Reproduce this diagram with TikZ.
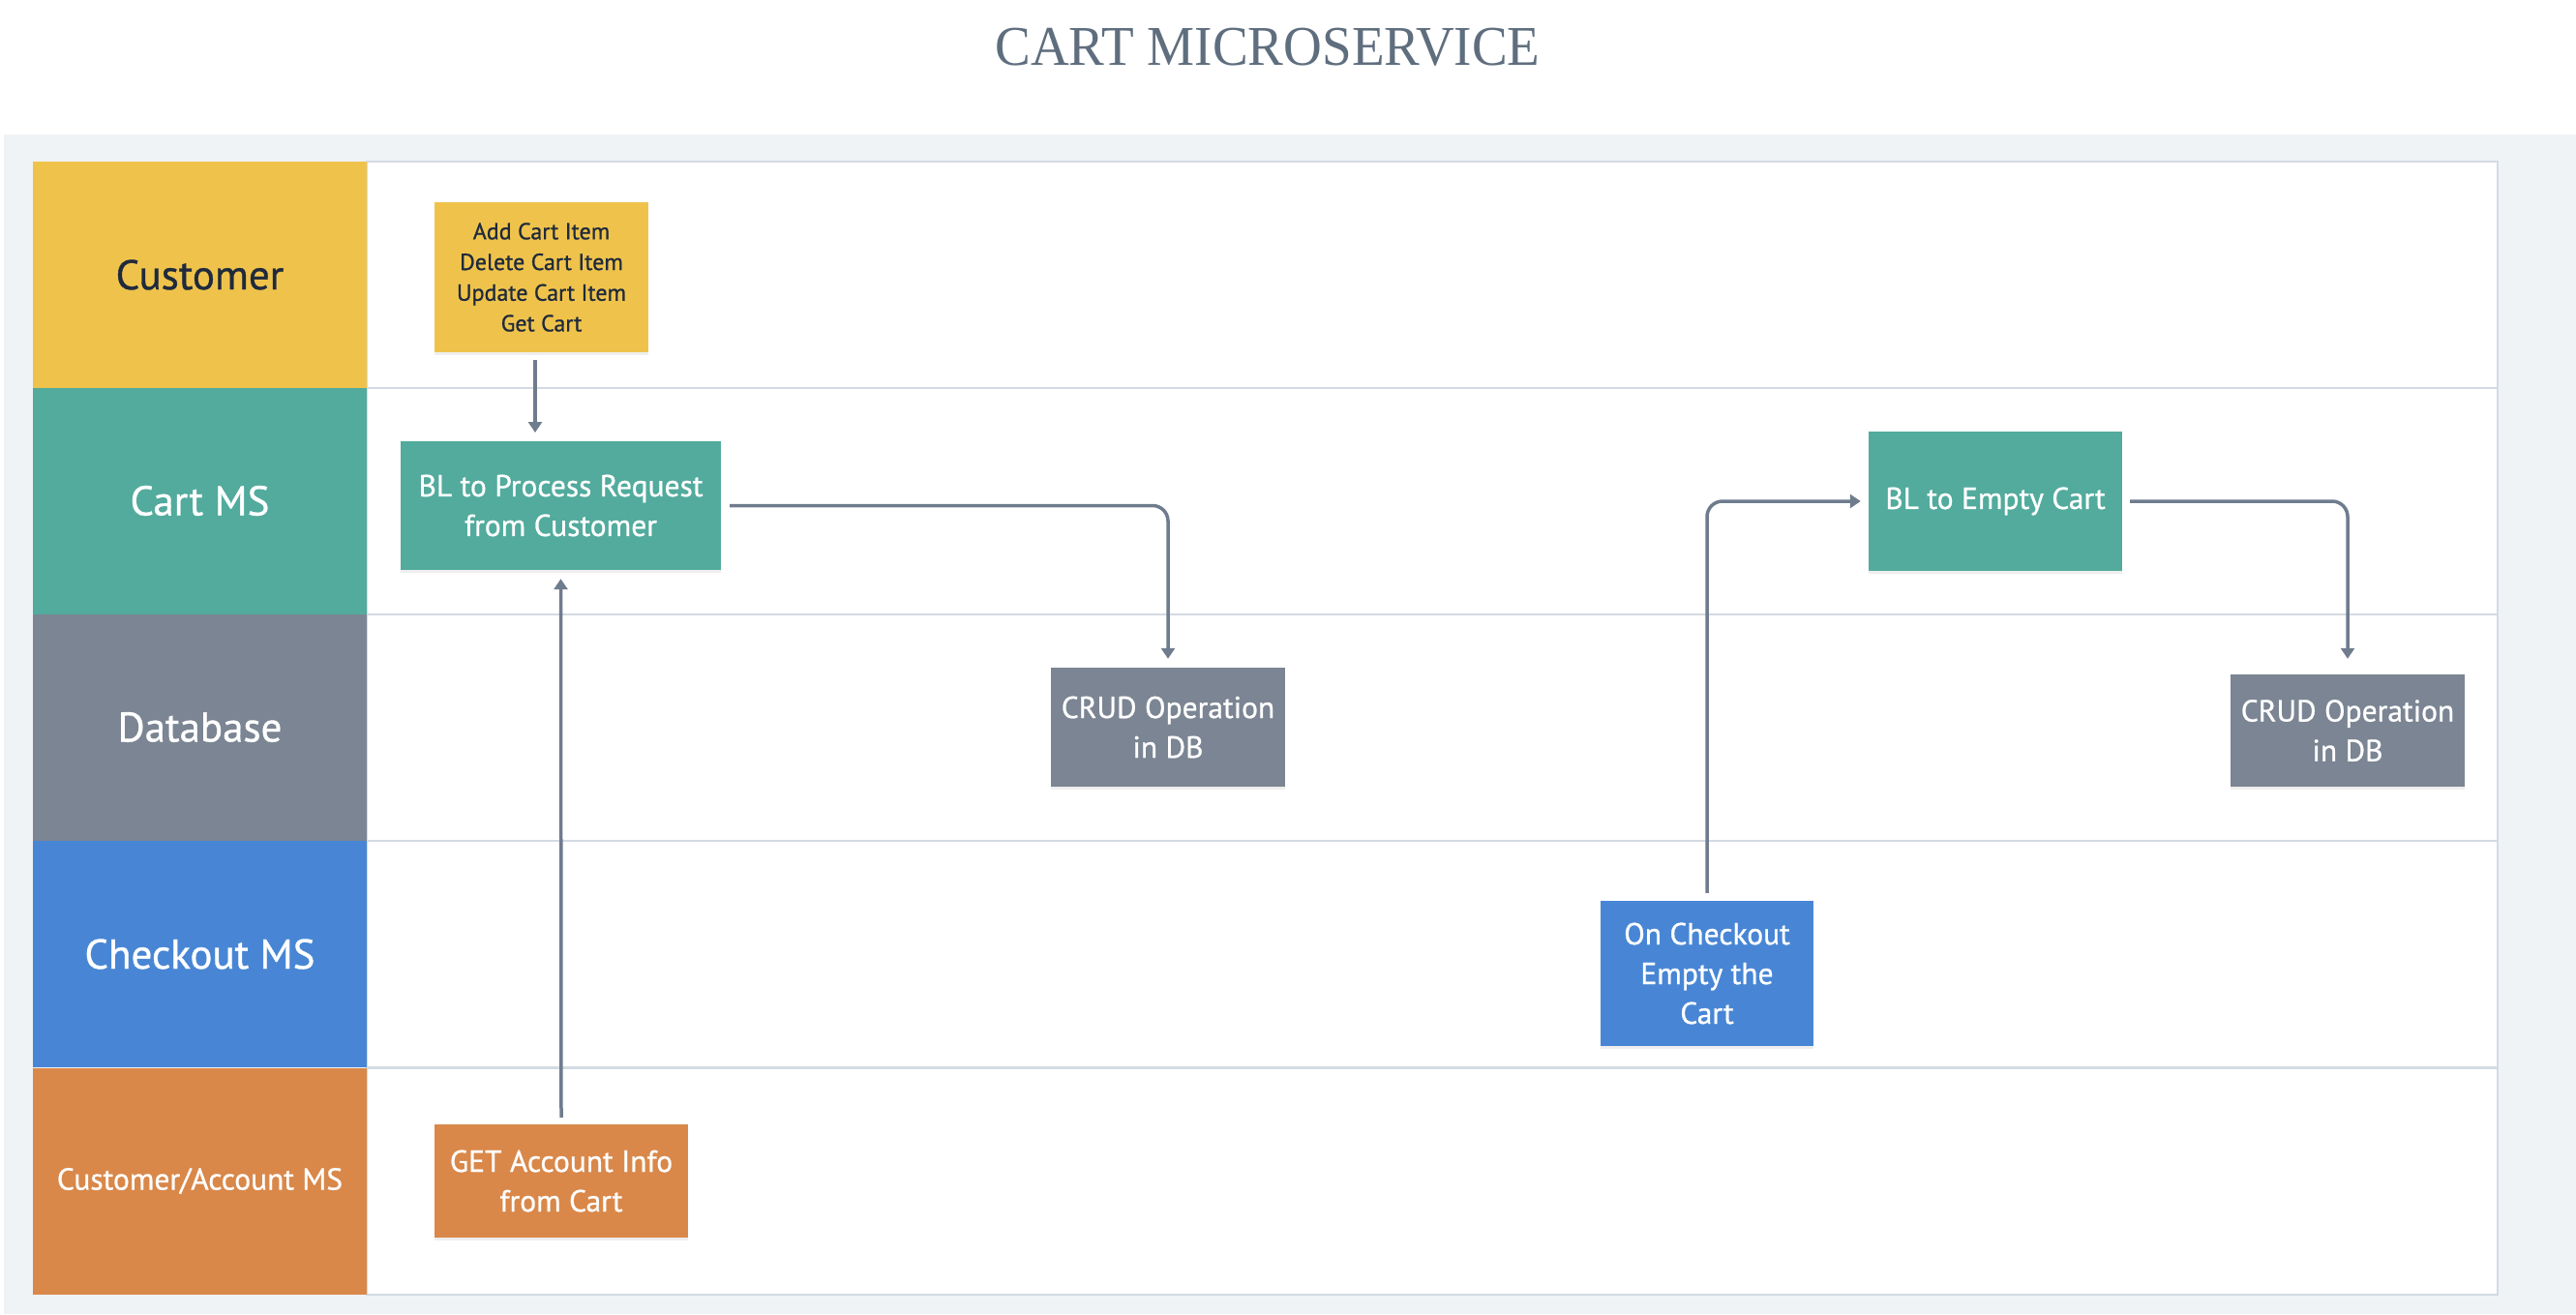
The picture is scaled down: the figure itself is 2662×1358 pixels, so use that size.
\documentclass[tikz,border=0pt]{standalone}
\usepackage{fontspec}
\setmainfont[FakeBold=0.8]{PT Sans}
\newfontfamily\titlefont{Liberation Serif}
\usetikzlibrary{arrows.meta,shadows}
\definecolor{custY}{HTML}{EFC34B}
\definecolor{cartG}{HTML}{52AB9D}
\definecolor{dbGray}{HTML}{7B8593}
\definecolor{chkB}{HTML}{4886D5}
\definecolor{accO}{HTML}{D9884A}
\definecolor{connC}{HTML}{6F7C8E}
\definecolor{laneLine}{HTML}{D3DAE3}
\definecolor{panelBg}{HTML}{EFF3F6}
\definecolor{titleC}{HTML}{5F6E7E}
\definecolor{navyT}{HTML}{1F2A3C}
\tikzset{
  lanelab/.style={rectangle, inner sep=0pt, minimum width=345pt, minimum height=234pt, align=center, font=\fontsize{43}{50}\selectfont},
  lanebody/.style={rectangle, inner sep=0pt, fill=white, draw=laneLine, line width=2pt, minimum width=2202pt, minimum height=234pt},
  flowbox/.style={rectangle, inner sep=0pt, align=center, text=white, font=\fontsize{31.5}{41}\selectfont,
    drop shadow={opacity=0.13, shadow xshift=0pt, shadow yshift=-3pt}},
  conn/.style={draw=connC, line width=3.5pt, rounded corners=16pt, -{Triangle[width=14pt,length=11pt]}}
}
\begin{document}
\begin{tikzpicture}[x=1pt,y=-1pt]
\useasboundingbox (0,0) rectangle (2662,1358);
\fill[white] (0,0) rectangle (2662,1358);
\fill[panelBg] (4,139) rectangle (2662,1358);
\node[text=titleC, font=\titlefont\fontsize{58}{60}\selectfont, inner sep=0pt, anchor=base] (title) at (1310,67) {\scalebox{0.95}[1]{CART MICROSERVICE}};
% lane bodies
\node[lanebody] (bCust) at (1480,284) {};
\node[lanebody] (bCart) at (1480,517.5) {};
\node[lanebody] (bDb) at (1480,751.5) {};
\node[lanebody] (bChk) at (1480,986) {};
\node[lanebody] (bAcc) at (1480,1220.5) {};
% lane labels
\node[lanelab, fill=custY, text=navyT] (lCust) at (206.5,284) {Customer};
\node[lanelab, fill=cartG, text=white] (lCart) at (206.5,517.5) {Cart MS};
\node[lanelab, fill=dbGray, text=white] (lDb) at (206.5,751.5) {Database};
\node[lanelab, fill=chkB, text=white] (lChk) at (206.5,986) {Checkout MS};
\node[lanelab, fill=accO, text=white, font=\fontsize{31.5}{36}\selectfont] (lAcc) at (206.5,1220.5) {Customer/Account MS};
% flow boxes
\node[flowbox, fill=custY, text=navyT, minimum width=221pt, minimum height=155pt, font=\fontsize{24}{31.7}\selectfont] (cust) at (559.5,286.5) {Add Cart Item\\Delete Cart Item\\Update Cart Item\\Get Cart};
\node[flowbox, fill=cartG, minimum width=331pt, minimum height=133pt] (bl1) at (579.5,522.5) {BL to Process Request\\from Customer};
\node[flowbox, fill=accO, minimum width=262pt, minimum height=117pt] (get) at (580,1220.5) {GET Account Info\\from Cart};
\node[flowbox, fill=dbGray, minimum width=242pt, minimum height=123pt] (crud1) at (1207,751.5) {CRUD Operation\\in DB};
\node[flowbox, fill=chkB, minimum width=220pt, minimum height=150pt] (chk) at (1764,1006) {On Checkout\\Empty the\\Cart};
\node[flowbox, fill=cartG, minimum width=262pt, minimum height=144pt] (bl2) at (2062,518) {BL to Empty Cart};
\node[flowbox, fill=dbGray, minimum width=242pt, minimum height=116pt] (crud2) at (2426,755) {CRUD Operation\\in DB};
% connectors
\coordinate (custOut) at (553,372);
\coordinate (bl1In) at (553,447);
\draw[conn] (custOut) -- (bl1In);
\draw[conn] ([yshift=7pt]get.north) -- ([yshift=-9pt]bl1.south);
\draw[conn] ([xshift=9pt]bl1.east) -| ([yshift=9pt]crud1.north);
\draw[conn] ([yshift=8pt]chk.north) |- ([xshift=-8pt]bl2.west);
\draw[conn] ([xshift=8pt]bl2.east) -| ([yshift=16pt]crud2.north);
\end{tikzpicture}
\end{document}
